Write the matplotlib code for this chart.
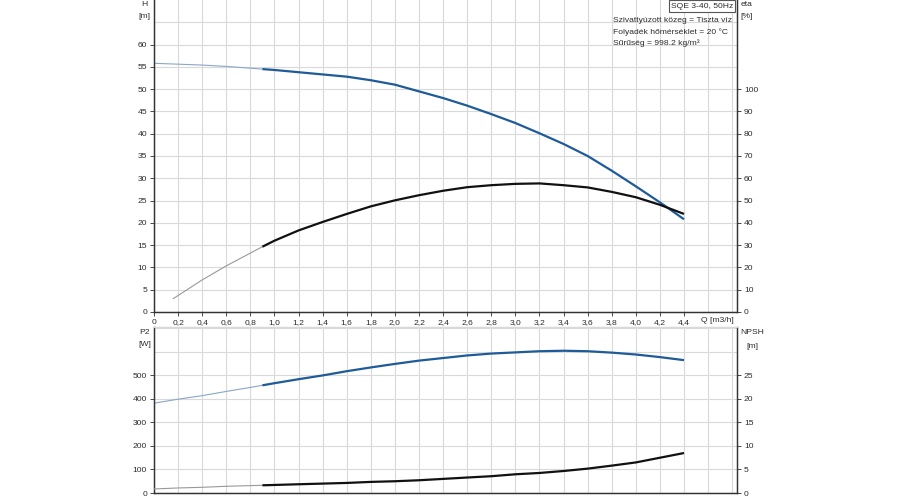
import matplotlib
matplotlib.use("Agg")
import matplotlib.pyplot as plt

plt.rcParams['font.family'] = ['Liberation Sans', 'DejaVu Sans']

# flow points (m3/h)
q = [0, 0.2, 0.4, 0.6, 0.8, 0.9, 1.0, 1.2, 1.4, 1.6, 1.8, 2.0, 2.2,
     2.4, 2.6, 2.8, 3.0, 3.2, 3.4, 3.6, 3.8, 4.0, 4.2, 4.4]
head = [55.8, 55.6, 55.4, 55.1, 54.7, 54.5, 54.3, 53.8, 53.3, 52.8, 52.0, 51.0, 49.5,
        48.0, 46.3, 44.4, 42.4, 40.1, 37.7, 35.0, 31.7, 28.2, 24.6, 20.8]
p2 = [382, 399, 414, 432, 449, 458, 467, 484, 500, 518, 534, 549, 563,
      574, 585, 593, 598, 603, 605, 603, 597, 589, 578, 565]
npsh = [0.86, 1.07, 1.21, 1.43, 1.57, 1.64, 1.71, 1.86, 2.0, 2.14, 2.36, 2.5, 2.71,
        3.0, 3.29, 3.57, 3.98, 4.26, 4.68, 5.18, 5.82, 6.5, 7.5, 8.5]

q_eta = [0.16, 0.4, 0.6, 0.9, 1.0, 1.2, 1.4, 1.6, 1.8, 2.0, 2.2,
         2.4, 2.6, 2.8, 3.0, 3.2, 3.4, 3.6, 3.8, 4.0, 4.2, 4.4]
eta = [6.0, 14.4, 20.7, 29.3, 32.0, 36.6, 40.4, 44.0, 47.4, 50.1, 52.4,
       54.4, 56.0, 56.9, 57.5, 57.7, 56.9, 55.9, 53.9, 51.5, 48.1, 44.0]

q_split = 0.9  # below this the curves are drawn thin

x_ticks = [0, 0.2, 0.4, 0.6, 0.8, 1.0, 1.2, 1.4, 1.6, 1.8, 2.0, 2.2,
           2.4, 2.6, 2.8, 3.0, 3.2, 3.4, 3.6, 3.8, 4.0, 4.2, 4.4]
x_labels = [f"{v:.1f}".replace(".", ",") if v else "0" for v in x_ticks]

info_lines = ["Szivattyúzott közeg = Tiszta víz",
              "Folyadék hőmérséklet = 20 °C",
              "Sűrűség = 998.2 kg/m³"]

BLUE = "#1f5b99"
BLUE_THIN = "#8aa6c8"
BLACK = "#111111"
GRAY_THIN = "#999999"
GRID = "#d9d9d9"
SPINE = "#333333"
TXT = "#2b2b2b"
FS = 6.1


def split_plot(ax, xs, ys, color, thin_color):
    lo = [(x, y) for x, y in zip(xs, ys) if x <= q_split]
    hi = [(x, y) for x, y in zip(xs, ys) if x >= q_split]
    ax.plot([p[0] for p in lo], [p[1] for p in lo], color=thin_color, lw=0.8, zorder=3)
    ax.plot([p[0] for p in hi], [p[1] for p in hi], color=color, lw=1.6, zorder=4,
            solid_capstyle="butt")


def style(ax):
    for s in ax.spines.values():
        s.set_color(SPINE)
        s.set_linewidth(0.9)
    ax.tick_params(labelsize=FS, colors=TXT, length=3, width=0.6, pad=2)
    ax.tick_params(which="minor", length=0)


fig = plt.figure(figsize=(9, 5), dpi=100)
xmax = 4.84

# ---- top panel: H and eta
ax1 = fig.add_axes([154 / 900, 1 - 312 / 500, 583 / 900, 312 / 500])
ax1.set_xlim(0, xmax)
ax1.set_ylim(0, 70)
ax1.set_xticks(x_ticks)
ax1.set_xticklabels(x_labels)
ax1.set_xticks([4.6, 4.8], minor=True)
ax1.set_yticks(range(0, 61, 5))
ax1.set_yticks([65], minor=True)
ax1.grid(True, which="both", color=GRID, lw=0.8)
ax1.set_axisbelow(True)
style(ax1)
ax1.spines["top"].set_visible(False)
split_plot(ax1, q, head, BLUE, BLUE_THIN)

ax1r = ax1.twinx()
ax1r.set_ylim(0, 140)
ax1r.set_yticks(range(0, 101, 10))
style(ax1r)
ax1r.spines["top"].set_visible(False)
split_plot(ax1r, q_eta, eta, BLACK, GRAY_THIN)

# ---- bottom panel: P2 and NPSH
ax2 = fig.add_axes([154 / 900, 1 - 493 / 500, 583 / 900, 166 / 500])
ax2.set_xlim(0, xmax)
ax2.set_ylim(0, 706)
ax2.set_xticks(x_ticks)
ax2.set_xticks([4.6, 4.8], minor=True)
ax2.tick_params(labelbottom=False)
ax2.set_yticks(range(0, 501, 100))
ax2.set_yticks([600, 700], minor=True)
ax2.grid(True, which="both", color=GRID, lw=0.8)
ax2.set_axisbelow(True)
style(ax2)
ax2.tick_params(axis="x", length=0)
ax2.spines["top"].set_color(GRID)
split_plot(ax2, q, p2, BLUE, BLUE_THIN)

ax2r = ax2.twinx()
ax2r.set_ylim(0, 706 / 20)
ax2r.set_yticks(range(0, 26, 5))
style(ax2r)
ax2r.spines["top"].set_color(GRID)
split_plot(ax2r, q, npsh, BLACK, GRAY_THIN)


def ftxt(x, y, s, **kw):
    fig.text(x / 900, 1 - y / 500, s, fontsize=FS, color=TXT, va="center", **kw)


ftxt(144, 5, "H", ha="center")
ftxt(144, 16, "[m]", ha="center")
ftxt(747, 5, "eta", ha="center")
ftxt(747, 16, "[%]", ha="center")
ftxt(145, 332, "P2", ha="center")
ftxt(145, 344, "[W]", ha="center")
ftxt(752, 333, "NPSH", ha="center")
ftxt(752, 346, "[m]", ha="center")
ftxt(717, 320, "Q [m3/h]", ha="center")
for i, line in enumerate(info_lines):
    ftxt(613, 21 + 11 * i, line, ha="left")
fig.text(702 / 900, 1 - 6 / 500, "SQE 3-40, 50Hz", fontsize=FS, color=TXT,
         ha="center", va="center",
         bbox=dict(boxstyle="square,pad=0.25", fc="white", ec="#555555", lw=0.8))

fig.savefig("out.png", dpi=100)
